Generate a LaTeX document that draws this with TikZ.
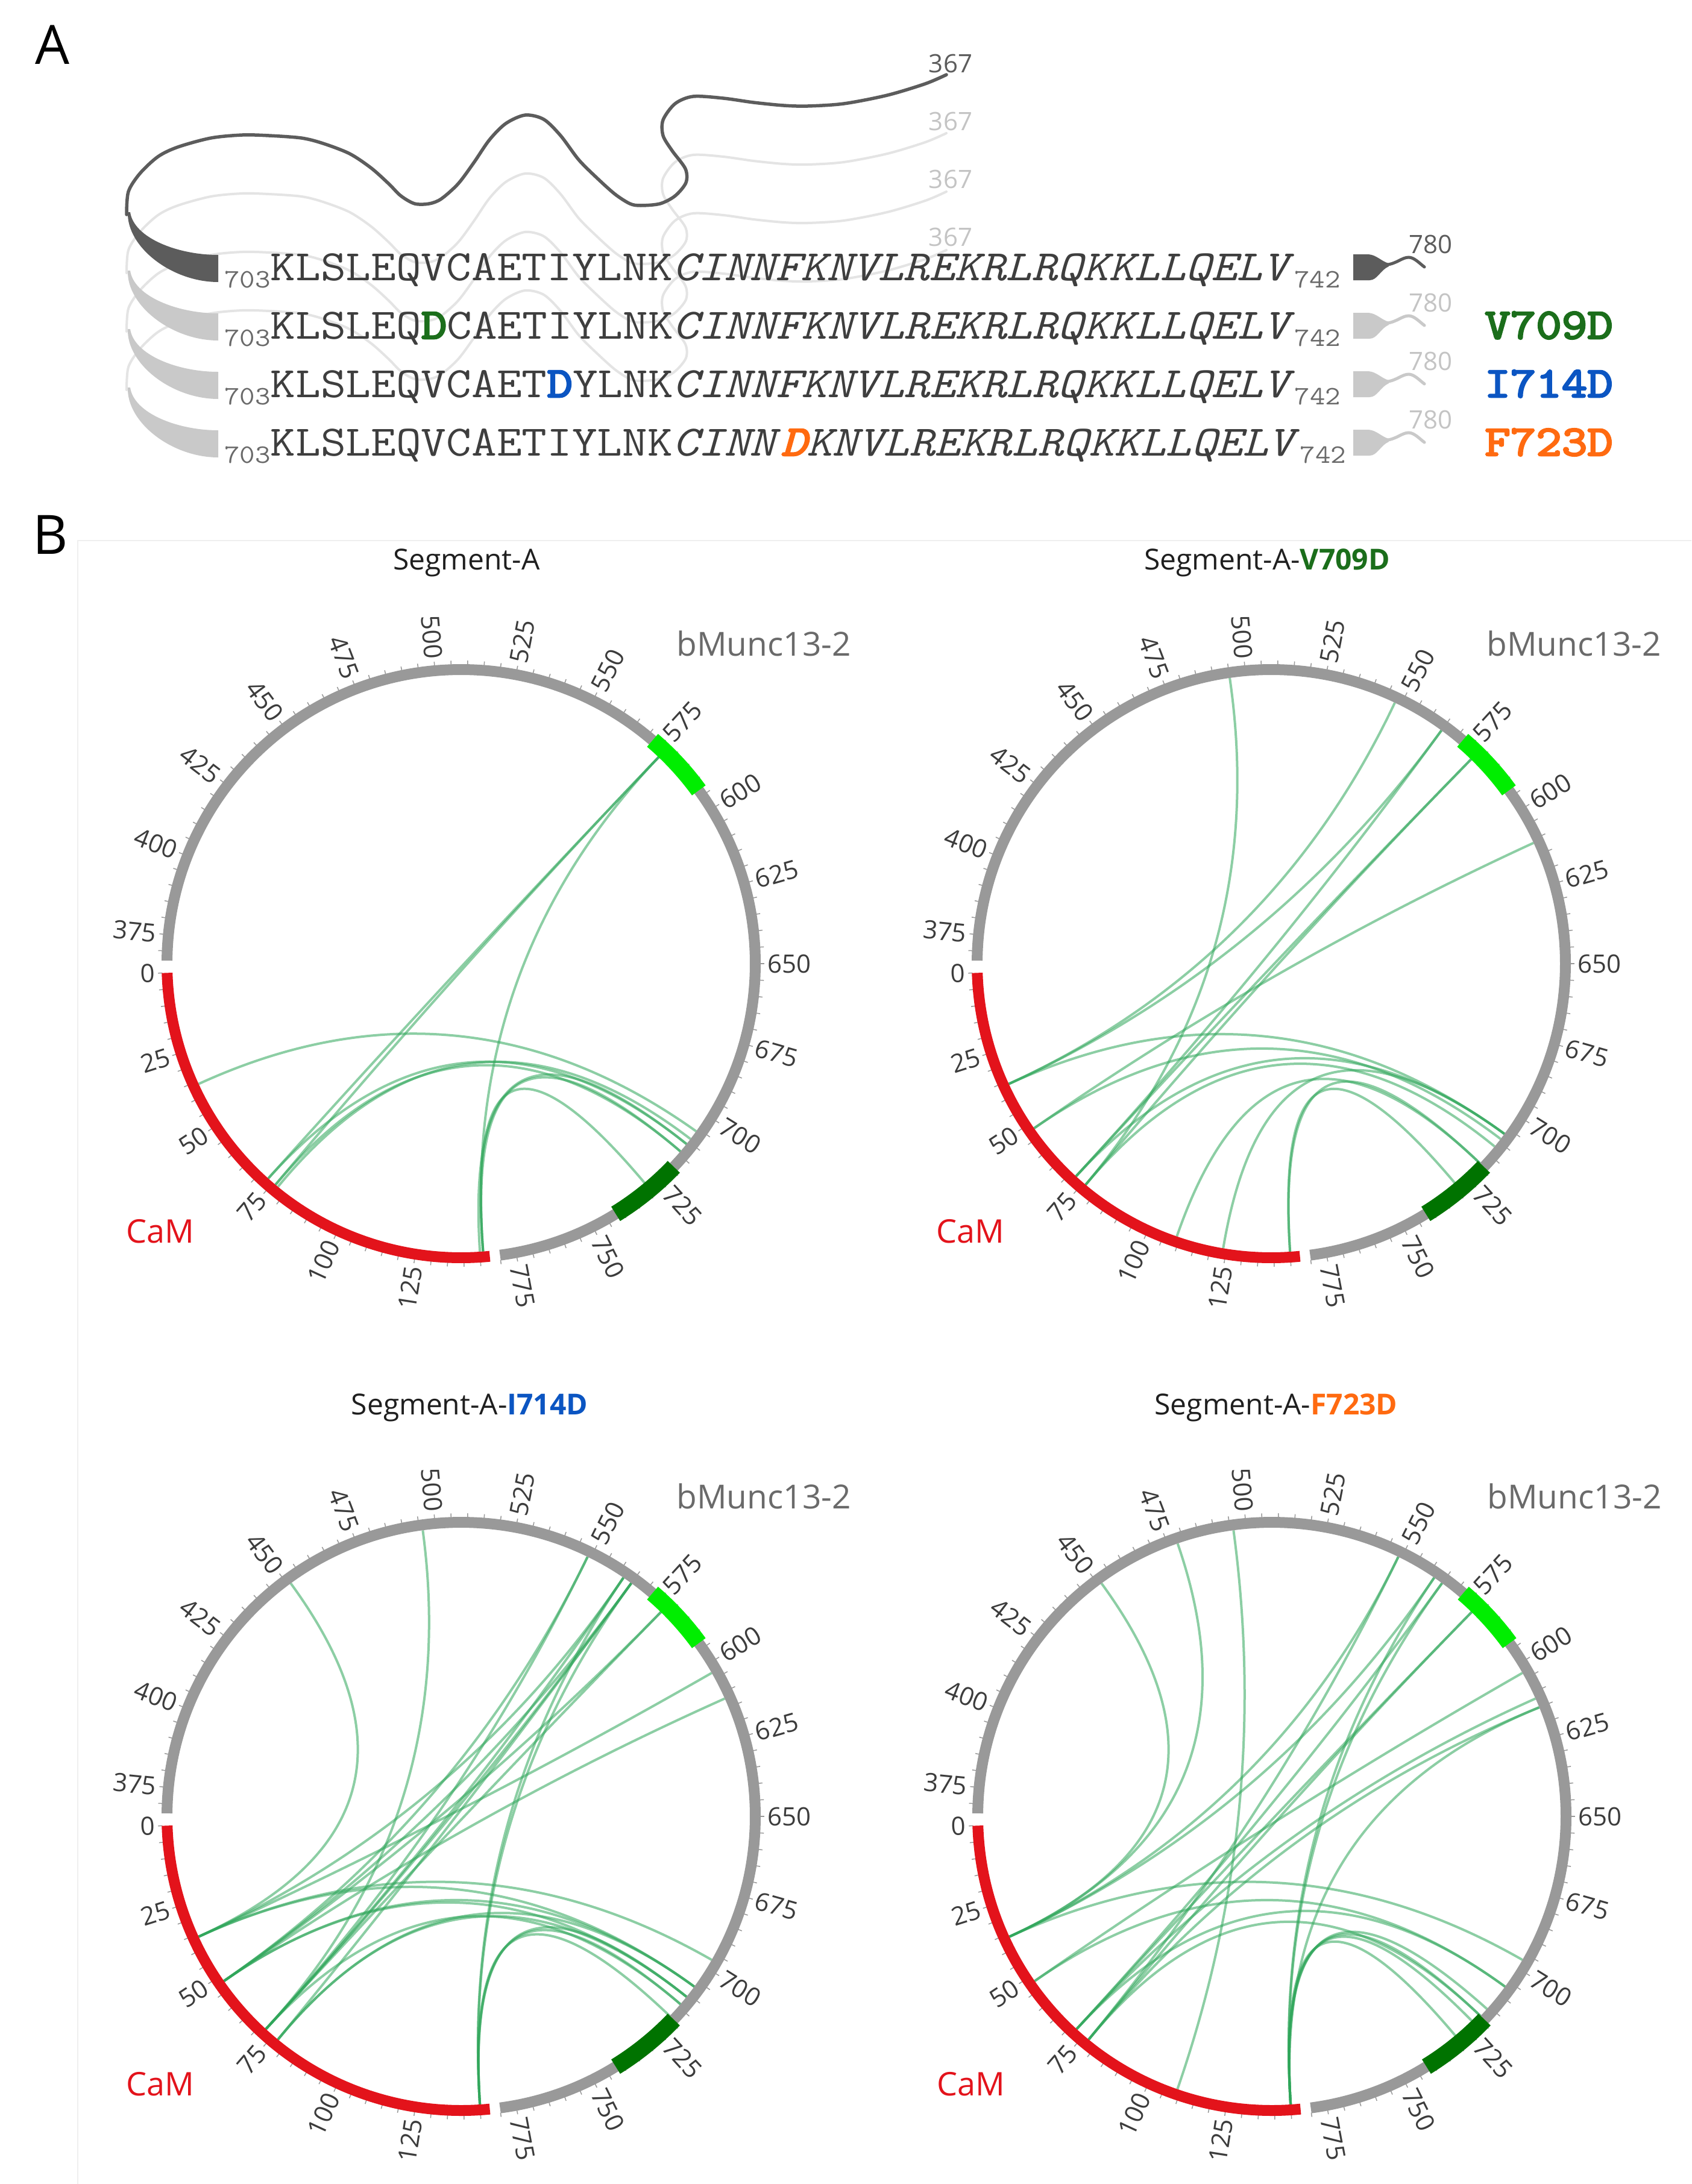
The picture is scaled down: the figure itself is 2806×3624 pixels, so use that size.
\documentclass[tikz,border=0pt]{standalone}
\usepackage{fontspec}
\usepackage{graphicx}
\newfontfamily\osans{Open Sans}
\newfontfamily\lmmb[FakeBold=3.5]{lmmono10-regular.otf}
\newfontfamily\lmmbi[FakeBold=3.5]{lmmono10-italic.otf}
\definecolor{seqgray}{HTML}{3E3E3E}
\definecolor{subgray}{HTML}{6A6A6A}
\definecolor{curvedark}{HTML}{5C5C5C}
\definecolor{curvelight}{HTML}{E4E4E4}
\definecolor{wedgelight}{HTML}{C9C9C9}
\definecolor{numlight}{HTML}{C4C4C4}
\definecolor{ringgray}{HTML}{999999}
\definecolor{camred}{HTML}{E3131B}
\definecolor{limeg}{HTML}{00EE00}
\definecolor{dkgreen}{HTML}{007300}
\definecolor{chordg}{HTML}{2FA65A}
\definecolor{mutgreen}{HTML}{1B6E1B}
\definecolor{mutblue}{HTML}{0B55C2}
\definecolor{mutorange}{HTML}{FF6A10}
\definecolor{labgray}{HTML}{3C3C3C}
\definecolor{muncgray}{HTML}{6A6A6A}
\definecolor{framec}{HTML}{EFEFEF}
\tikzset{
  seqtext/.style={font=\ttfamily\fontsize{72}{72}\selectfont, text=seqgray, inner sep=0, anchor=base west},
  mutlab/.style={font=\lmmb\fontsize{72}{72}\selectfont, inner sep=0, anchor=base west},
  numlab/.style={font=\osans\fontsize{42}{42}\selectfont, inner sep=0},
  ticklab/.style={font=\osans\fontsize{42}{42}\selectfont, text=labgray, inner sep=0},
  ptitle/.style={font=\osans\fontsize{48}{48}\selectfont, text=black!88, inner sep=0},
  camlab/.style={font=\osans\fontsize{54}{54}\selectfont, text=camred, inner sep=0},
  munclab/.style={font=\osans\fontsize{55}{55}\selectfont, text=muncgray, inner sep=0},
  panellab/.style={font=\osans\fontsize{90}{90}\selectfont, text=black, inner sep=0},
  ring/.style={line width=18, draw=ringgray},
  hl/.style={line width=28},
  tickline/.style={line width=1.5, draw=ringgray},
  chordline/.style={line width=4, draw=chordg, draw opacity=0.55},
}
\newcommand\subnum[1]{\raisebox{-12pt}{\fontsize{44}{44}\selectfont\color{subgray}#1}}
\newcommand\seqx[1]{\scalebox{1.125}[1]{#1}}
\newcommand\mutD[1]{{\lmmb\color{#1}D}}
\newcommand\mutDi[1]{{\lmmbi\color{#1}D}}
\def\Ri{479}
\def\Rc{159.67}
\def\Rl{508}
\newcommand\ch[2]{%
  \pgfmathsetmacro\aA{181.8+0.634*#1}%
  \pgfmathsetmacro\aB{(650-#2)*0.634}%
  \draw[chordline] (\aA:\Ri) .. controls (\aA:\Rc) and (\aB:\Rc) .. (\aB:\Ri);}
\newcommand\blab[2]{%
  \pgfmathsetmacro\angT{(650-#2)*0.634}%
  \ifdim\angT pt>90pt
    \pgfmathsetmacro\rotT{\angT-180}%
    \node[ticklab,anchor=east,rotate=\rotT] (#1-b#2) at (\angT:\Rl) {#2};%
  \else
    \node[ticklab,anchor=west,rotate=\angT] (#1-b#2) at (\angT:\Rl) {#2};%
  \fi}
\newcommand\clab[2]{%
  \pgfmathsetmacro\angT{181.8+0.634*#2}%
  \pgfmathsetmacro\rotT{\angT-180}%
  \node[ticklab,anchor=east,rotate=\rotT] (#1-c#2) at (\angT:\Rl) {#2};}
\newcommand\circplot[3]{%
\begin{scope}[shift={(#1,-#2)}]
  \foreach \v in {370,375,...,780}{\pgfmathsetmacro\angT{(650-\v)*0.634}\draw[tickline] (\angT:496) -- (\angT:503);}
  \foreach \v in {0,5,...,145}{\pgfmathsetmacro\angT{181.8+0.634*\v}\draw[tickline] (\angT:496) -- (\angT:503);}
  \draw[ring] (179.4:488) arc[start angle=179.4, end angle=-82.4, radius=488];
  \draw[ring, draw=camred] (181.8:488) arc[start angle=181.8, end angle=275.6, radius=488];
  \draw[hl, draw=limeg] (49.4:488) arc[start angle=49.4, end angle=36.1, radius=488];
  \draw[hl, draw=dkgreen] (-43.7:488) arc[start angle=-43.7, end angle=-58.3, radius=488];
  \foreach \v in {375,400,...,775}{\blab{#3}{\v}}
  \foreach \v in {0,25,...,125}{\clab{#3}{\v}}
  \node[camlab] (#3-cam) at (-499,-444) {CaM};
  \node[munclab] (#3-munc) at (502,531) {bMunc13-2};
\end{scope}}
\begin{document}
\begin{tikzpicture}[x=1pt,y=1pt]
\useasboundingbox (0,0) rectangle (2806,-3624);
\fill[white] (0,0) rectangle (2806,-3624);
% ---------------- Panel A ----------------
\node[panellab] (labA) at (87,-74) {A};
\foreach \k/\col/\w in {3/curvelight/4,2/curvelight/4,1/curvelight/4,0/curvedark/5.5}{
  \draw[line width=\w, draw=\col, line cap=round, yshift=-97*\k] plot[smooth,tension=0.5] coordinates {(210,-356) (213,-318) (232,-288) (262,-260) (295,-244) (350,-229) (402,-224) (446,-225) (500,-229) (536,-238) (580,-255) (616,-279) (645,-305) (665,-325) (688,-338) (712,-338) (732,-330) (760,-305) (786,-270) (812,-232) (839,-205) (871,-191) (902,-198) (930,-225) (960,-265) (990,-295) (1020,-322) (1045,-338) (1063,-341) (1095,-338) (1120,-325) (1138,-303) (1137,-280) (1115,-250) (1100,-225) (1100,-199) (1120,-172) (1150,-160) (1200,-163) (1250,-170) (1300,-175) (1340,-176) (1400,-172) (1472,-158) (1535,-139) (1570,-124)};
}
\foreach \k/\col in {3/wedgelight,2/wedgelight,1/wedgelight,0/curvedark}{
  \fill[fill=\col, yshift=-97*\k] (212,-352) .. controls (210,-410) and (285,-468) .. (362,-468) -- (362,-423) .. controls (295,-423) and (222,-395) .. (216,-352) -- cycle;
  \fill[fill=\col, yshift=-97*\k] (2245,-422) -- (2270,-422) .. controls (2284,-423) and (2292,-434) .. (2304,-437) -- (2304,-442) .. controls (2290,-448) and (2285,-465) .. (2272,-465) -- (2245,-465) -- cycle;
  \draw[line width=5, draw=\col, line cap=round, yshift=-97*\k] (2300,-439.5) .. controls (2318,-437) and (2326,-427) .. (2337,-427) .. controls (2346,-427) and (2355,-437) .. (2363,-443);
}
\node[numlab, text=curvedark] (n367a) at (1577,-105) {367};
\node[numlab, text=numlight] (n367b) at (1577,-201) {367};
\node[numlab, text=numlight] (n367c) at (1577,-297) {367};
\node[numlab, text=numlight] (n367d) at (1577,-393) {367};
\node[numlab, text=curvedark] (n780a) at (2373,-405) {780};
\node[numlab, text=numlight] (n780b) at (2373,-502) {780};
\node[numlab, text=numlight] (n780c) at (2373,-599) {780};
\node[numlab, text=numlight] (n780d) at (2373,-696) {780};
\node[seqtext] (row1) at (372,-465) {\seqx{\subnum{703}KLSLEQVCAETIYLNK\textit{CINNFKNVLREKRLRQKKLLQELV}\subnum{742}}};
\node[seqtext] (row2) at (372,-562) {\seqx{\subnum{703}KLSLEQ\mutD{mutgreen}CAETIYLNK\textit{CINNFKNVLREKRLRQKKLLQELV}\subnum{742}}};
\node[seqtext] (row3) at (372,-659) {\seqx{\subnum{703}KLSLEQVCAET\mutD{mutblue}YLNK\textit{CINNFKNVLREKRLRQKKLLQELV}\subnum{742}}};
\node[seqtext] (row4) at (372,-756) {\seqx{\subnum{703}KLSLEQVCAETIYLNK\textit{CINN}\mutDi{mutorange}\textit{KNVLREKRLRQKKLLQELV}\subnum{742}}};
\node[mutlab, text=mutgreen] (m709) at (2463,-562) {\seqx{V709D}};
\node[mutlab, text=mutblue] (m714) at (2463,-659) {\seqx{I714D}};
\node[mutlab, text=mutorange] (m723) at (2463,-756) {\seqx{F723D}};
% ---------------- Panel B ----------------
\draw[draw=framec, line width=2] (129,-3624) -- (129,-897) -- (2806,-897);
\node[panellab] (labB) at (84,-887) {B};
\node[ptitle] (t1) at (774,-934) {Segment-A};
\node[ptitle] (t2) at (2102,-934) {Segment-A-{\bfseries\color{mutgreen}V709D}};
\node[ptitle] (t3) at (779,-2336) {Segment-A-{\bfseries\color{mutblue}I714D}};
\node[ptitle] (t4) at (2117,-2336) {Segment-A-{\bfseries\color{mutorange}F723D}};
% chords panel 1
\begin{scope}[shift={(765,-1599)}]
\ch{36}{706}\ch{73}{577}\ch{76}{577}\ch{73}{711}\ch{76}{714}\ch{77}{709}
\ch{146}{577}\ch{146}{729}\ch{146}{714}\ch{145}{711}
\end{scope}
% chords panel 2
\begin{scope}[shift={(2109,-1599)}]
\ch{36}{548}\ch{36}{565}\ch{36}{707}\ch{52}{611}\ch{52}{709}\ch{72}{578}
\ch{76}{578}\ch{72}{565}\ch{72}{707}\ch{76}{712}\ch{76}{495}\ch{109}{719}
\ch{124}{707}\ch{145}{729}\ch{145}{719}
\end{scope}
% chords panel 3
\begin{scope}[shift={(765,-3014)}]
\ch{36}{451}\ch{36}{603}\ch{36}{562}\ch{36}{697}\ch{36}{707}\ch{52}{549}
\ch{52}{565}\ch{52}{578}\ch{52}{612}\ch{52}{711}\ch{72}{549}\ch{72}{562}
\ch{72}{578}\ch{72}{496}\ch{72}{714}\ch{77}{565}\ch{77}{711}\ch{77}{707}
\ch{145}{562}\ch{145}{565}\ch{145}{719}\ch{145}{714}\ch{145}{711}\ch{72}{565}
\ch{52}{707}
\end{scope}
% chords panel 4
\begin{scope}[shift={(2110,-3014)}]
\ch{36}{451}\ch{36}{478}\ch{109}{496}\ch{36}{549}\ch{36}{562}\ch{52}{603}
\ch{72}{612}\ch{77}{615}\ch{145}{615}\ch{72}{578}\ch{77}{578}\ch{72}{565}
\ch{77}{549}\ch{145}{562}\ch{145}{565}\ch{36}{697}\ch{52}{707}\ch{72}{707}
\ch{77}{719}\ch{145}{719}\ch{145}{722}\ch{145}{729}\ch{145}{716}
\end{scope}
\circplot{765}{1599}{p1}
\circplot{2109}{1599}{p2}
\circplot{765}{3014}{p3}
\circplot{2110}{3014}{p4}
\end{tikzpicture}
\end{document}
